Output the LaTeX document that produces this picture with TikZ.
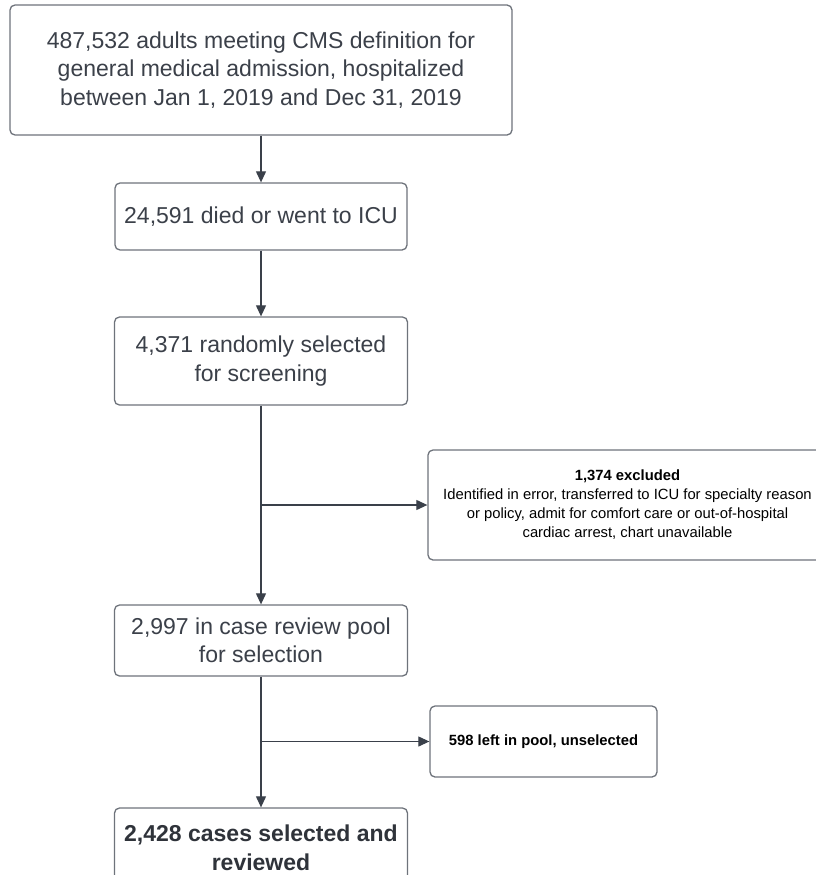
\documentclass[tikz,border=0pt]{standalone}
\usepackage{fontspec}
\setmainfont{Liberation Sans}
\usetikzlibrary{arrows.meta}
\definecolor{edge}{HTML}{6E737B}
\definecolor{ink}{HTML}{3B4049}
\definecolor{arr}{HTML}{3A404A}
\begin{document}
\begin{tikzpicture}[x=1pt,y=-1pt,
  box/.style={draw=edge,line width=1.3pt,rounded corners=5pt,fill=white,text=ink,align=center,inner sep=0pt},
  bigtxt/.style={font=\fontsize{23}{28.5}\selectfont},
  smalltxt/.style={font=\fontsize{14.8}{19}\selectfont,text=black},
  conn/.style={draw=arr,line width=1.1pt},
  arrowc/.style={conn,-{Triangle[length=11pt,width=10pt]}}]
\useasboundingbox (0,0) rectangle (816,875);
\node[box,bigtxt,minimum width=502pt,minimum height=130pt] (a) at (261,70) {487,532 adults meeting CMS definition for\\general medical admission, hospitalized\\between Jan 1, 2019 and Dec 31, 2019};
\node[box,bigtxt,minimum width=292pt,minimum height=67pt] (b) at (261,216.5) {24,591 died or went to ICU};
\node[box,bigtxt,minimum width=293pt,minimum height=88pt] (c) at (261,361) {4,371 randomly selected\\for screening};
\node[box,smalltxt,minimum width=399pt,minimum height=110pt] (ex) at (627.5,505) {\textbf{1,374 excluded}\\Identified in error, transferred to ICU for specialty reason\\or policy, admit for comfort care or out-of-hospital\\cardiac arrest, chart unavailable};
\node[box,bigtxt,minimum width=293pt,minimum height=71pt] (d) at (261,640.5) {2,997 in case review pool\\for selection};
\node[box,smalltxt,minimum width=227pt,minimum height=71pt] (un) at (543.5,741.5) {\textbf{598 left in pool, unselected}};
\node[box,font=\fontsize{23}{28.5}\selectfont\bfseries,text=ink!80!black,minimum width=293pt,minimum height=80pt] (e) at (261,848) {2,428 cases selected and\\reviewed};
\coordinate (j1) at (c.south |- ex.west);
\coordinate (j2) at (d.south |- un.west);
\draw[arrowc] (a.south) -- (b.north);
\draw[arrowc] (b.south) -- (c.north);
\draw[arrowc] (c.south) -- (d.north);
\draw[arrowc] (j1) -- (ex.west);
\draw[arrowc] (d.south) -- (e.north);
\draw[arrowc] (j2) -- (un.west);
\end{tikzpicture}
\end{document}
